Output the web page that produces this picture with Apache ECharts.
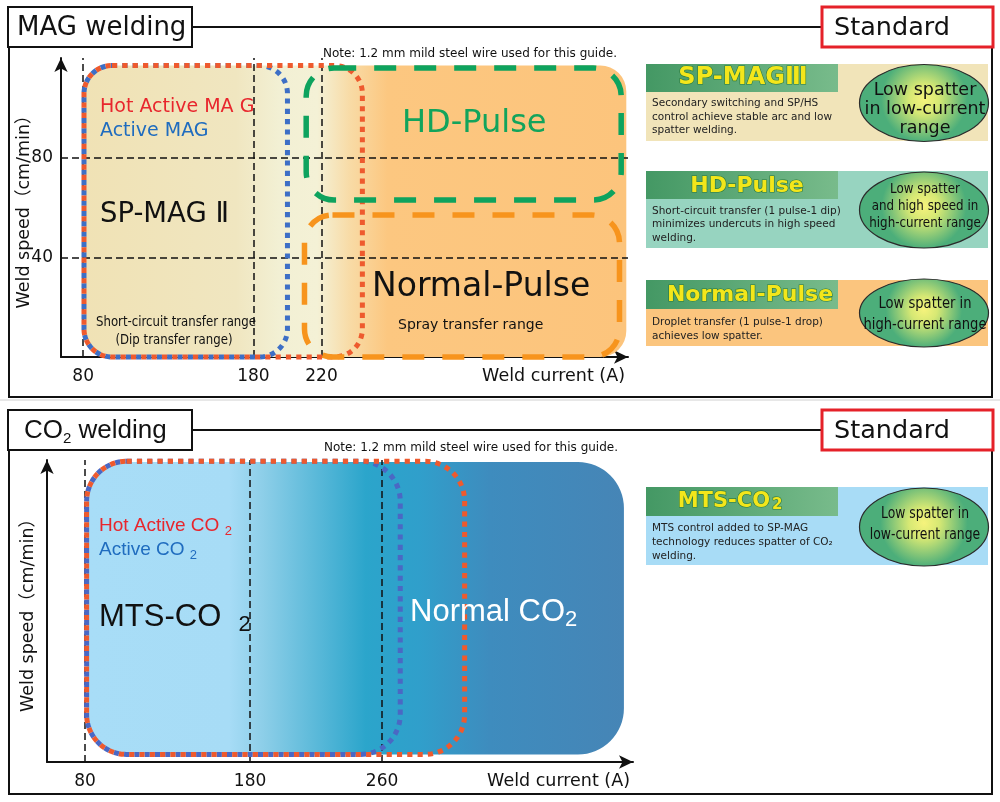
<!DOCTYPE html>
<html><head><meta charset="utf-8">
<script src="https://cdn.jsdelivr.net/npm/echarts@6/dist/echarts.min.js"></script>
<style>html,body{margin:0;padding:0;background:#fff}#c{width:1000px;height:802px}</style>
</head><body><div id="c"></div>
<script>
// ---------------- data ----------------
const magCurrentTicks = [80, 180, 220];
const magSpeedTicks = [40, 80];
const magRegionNames = ['MAG range', 'Active MAG', 'Hot Active MAG', 'HD-Pulse', 'Normal-Pulse'];
const magCurrentFrom = [80.5, 80.5, 80.5, 211, 210];
const magCurrentTo   = [399, 200, 244, 396, 395];
const magSpeedFrom   = [0, 0, 0, 63, 0];
const magSpeedTo     = [117, 117, 117, 116, 57];

const co2CurrentTicks = [80, 180, 260];
const co2RegionNames = ['CO2 range', 'Active CO2', 'Hot Active CO2'];
const co2CurrentFrom = [81, 81, 81];
const co2CurrentTo   = [406.5, 271, 310];
const co2SpeedFrom   = [2.5, 2.5, 2.5];
const co2SpeedTo     = [99.3, 99.6, 99.6];

// ---------------- styles ----------------
const FONT = '"DejaVu Sans", "Noto Sans CJK JP", sans-serif';
const regionStyle = {
  'MAG range': {r: [28, 26, 26, 28], gradient: [[0, '#f0e2b5'], [0.28, '#f0e6c0'], [0.36, '#f2f0d4'], [0.43, '#f4f1d6'], [0.49, '#f8dba6'], [0.56, '#fcc780'], [1, '#fcc47c']]},
  'Active MAG': {r: 28, stroke: '#3d6fc6', lw: 5, dotPair: ['Active MAG', 'Hot Active MAG']},
  'Hot Active MAG': {r: 28, stroke: '#ee5a2e', lw: 5, dotPair: ['Active MAG', 'Hot Active MAG']},
  'HD-Pulse': {r: 28, stroke: '#0ea35e', dash: [22, 18], lw: 5.5},
  'Normal-Pulse': {r: 28, stroke: '#f7941d', dash: [22, 18], lw: 5.5},
  'CO2 range': {r: [40, 46, 46, 40], gradient: [[0, '#a8ddf7'], [0.265, '#a7dcf6'], [0.33, '#8ccee8'], [0.52, '#2ba5cb'], [0.62, '#309fcb'], [0.75, '#3e8cbe'], [1, '#4685b6']]},
  'Active CO2': {r: 40, stroke: '#4a68c4', lw: 5, dotPair: ['Active CO2', 'Hot Active CO2']},
  'Hot Active CO2': {r: 40, stroke: '#ee5a2e', lw: 5, dotPair: ['Active CO2', 'Hot Active CO2']}
};

function makeRenderer(names, from, to, sFrom, sTo) {
  function box(api, i) {
    const tl = api.coord([from[i], sTo[i]]);
    const br = api.coord([to[i], sFrom[i]]);
    return {x: tl[0], y: tl[1], width: br[0] - tl[0], height: br[1] - tl[1]};
  }
  return function (params, api) {
    const i = api.value(4);
    const st = regionStyle[names[i]];
    const b = box(api, i);
    const shape = Object.assign({r: st.r}, b);
    let style;
    if (st.gradient) {
      style = {fill: new echarts.graphic.LinearGradient(0, 0, 1, 0, st.gradient.map(s => ({offset: s[0], color: s[1]}))), stroke: null};
    } else {
      style = {fill: 'none', stroke: st.stroke, lineWidth: st.lw, lineDash: st.dash, lineCap: 'butt'};
      if (st.dotPair) {
        // choose a dot period so the two dotted outlines coincide on the shared top edge
        // and interleave on the shared left / bottom edges
        const bi = box(api, names.indexOf(st.dotPair[0]));
        const bo = box(api, names.indexOf(st.dotPair[1]));
        const D = 2 * (bo.width - bi.width) + (bo.height - bi.height);
        const k = Math.max(0, Math.round(D / 10 - 0.5));
        const P = D / (k + 0.5);
        style.lineDash = [P / 2, P / 2];
        style.lineDashOffset = 0;
      }
    }
    return {type: 'rect', shape: shape, style: style};
  };
}
function regionData(names, from, to, sFrom, sTo, wantFill) {
  const out = [];
  names.forEach((n, i) => {
    if (!!regionStyle[n].gradient === wantFill) out.push([from[i], to[i], sFrom[i], sTo[i], i]);
  });
  return out;
}

const dashLine = {type: [7, 4], color: '#111', width: 1.5};

function xAxisOpt(grid, min, max, ticks) {
  return {
    gridIndex: grid, type: 'value', min: min, max: max,
    axisLine: {show: true, onZero: false, lineStyle: {color: '#111', width: 2}, symbol: ['none', 'arrow'], symbolSize: [10, 14]},
    axisTick: {show: false}, splitLine: {show: false},
    axisLabel: {customValues: ticks, fontSize: 17, color: '#111', margin: 11, fontFamily: FONT},
    name: 'Weld current (A)', nameLocation: 'end', nameGap: -3, nameMoveOverlap: false,
    nameTextStyle: {align: 'right', verticalAlign: 'top', padding: [11, 0, 0, 0], fontSize: 17.5, color: '#111', fontFamily: FONT}
  };
}
function yAxisOpt(grid, min, max, ticks, gap) {
  return {
    gridIndex: grid, type: 'value', min: min, max: max,
    axisLine: {show: true, onZero: false, lineStyle: {color: '#111', width: 2}, symbol: ['none', 'arrow'], symbolSize: [10, 14]},
    axisTick: {show: false}, splitLine: {show: false},
    axisLabel: ticks ? {customValues: ticks, fontSize: 17, color: '#111', margin: 8, fontFamily: FONT} : {show: false},
    name: 'Weld speed（cm/min）', nameLocation: 'middle', nameGap: gap, nameRotate: 90, nameMoveOverlap: false,
    nameTextStyle: {fontSize: 17.5, color: '#111', fontFamily: FONT}
  };
}

// ---------------- graphic helpers ----------------
function txt(x, y, text, size, fill, o) {
  o = o || {};
  const style = {
    text: text, fontSize: size, fontFamily: FONT, fill: fill || '#111',
    fontWeight: o.weight || 'normal', align: o.align || 'left', verticalAlign: 'middle'
  };
  if (o.rich) style.rich = o.rich;
  if (o.stroke) { style.stroke = o.stroke; style.lineWidth = o.lw || 1; }
  if (o.shadow) { style.shadowColor = o.shadow; style.shadowOffsetX = 2; style.shadowOffsetY = 2; style.shadowBlur = 0; }
  return {type: 'text', x: x, y: y, scaleX: o.sx || 1, z: o.z || 120, silent: true, style: style};
}
function frame(top, bottom) {
  return [
    {type: 'polyline', z: 100, silent: true, shape: {points: [[9, top + 40], [9, bottom], [992, bottom], [992, top + 40]]}, style: {stroke: '#111', lineWidth: 2, fill: null}},
    {type: 'line', z: 100, silent: true, shape: {x1: 192, y1: top + 20, x2: 822, y2: top + 20}, style: {stroke: '#111', lineWidth: 2}},
    {type: 'rect', z: 101, silent: true, shape: {x: 8, y: top, width: 184, height: 40}, style: {fill: '#fff', stroke: '#111', lineWidth: 2}},
    {type: 'rect', z: 101, silent: true, shape: {x: 822, y: top, width: 171, height: 40}, style: {fill: '#fff', stroke: '#e52129', lineWidth: 3}},
    txt(834, top + 21, 'Standard', 25.5, '#111')
  ];
}
const hdrGrad = () => new echarts.graphic.LinearGradient(0, 0, 1, 0, [{offset: 0, color: '#449864'}, {offset: 1, color: '#78bb8b'}]);
const ellGrad = () => new echarts.graphic.RadialGradient(0.5, 0.45, 0.55, [{offset: 0, color: '#f6f37c'}, {offset: 0.35, color: '#d6e874'}, {offset: 1, color: '#4cae7a'}]);
function card(c) {
  const els = [];
  els.push({type: 'rect', z: 10, silent: true, shape: {x: 646, y: c.y, width: 342, height: c.h}, style: {fill: c.bg}});
  els.push({type: 'rect', z: 11, silent: true, shape: {x: 646, y: c.y, width: 192, height: c.hh}, style: {fill: hdrGrad()}});
  c.titleEls.forEach(t => els.push(t));
  c.desc.forEach((d, k) => els.push(txt(652, c.descY[k], d, 10.5, '#222', {z: 12})));
  els.push({type: 'ellipse', z: 12, silent: true, shape: {cx: 924, cy: c.ecy, rx: 64.5, ry: c.ery}, style: {fill: ellGrad(), stroke: '#2b2b2b', lineWidth: 1.2}});
  c.ell.forEach((d, k) => els.push(txt(925, c.ellY[k], d, c.es, '#111', {align: 'center', sx: c.esx, z: 13})));
  return els;
}
const titleOpt = (extra) => Object.assign({weight: 'bold', stroke: '#2b7a3b', lw: 1.2, shadow: '#1f5f2e', align: 'center', z: 13}, extra || {});

const graphics = [].concat(
  [{type: 'line', z: 1, silent: true, shape: {x1: 0, y1: 400, x2: 1000, y2: 400}, style: {stroke: '#cfcfcf', lineWidth: 1}}],
  frame(7, 397), [txt(17, 28, 'MAG welding', 26, '#111')],
  frame(410, 794),
  [txt(24, 431, '{a|CO}{s|2}{a| welding}', 26, '#111', {rich: {a: {fontSize: 26, lineHeight: 31}, s: {fontSize: 15, lineHeight: 31, verticalAlign: 'bottom'}}})],
  // MAG chart texts
  [
    txt(617, 54, 'Note: 1.2 mm mild steel wire used for this guide.', 12, '#111', {align: 'right'}),
    txt(100, 107, 'Hot Active MA G', 19, '#e8262d'),
    txt(100, 131, 'Active MAG', 19, '#1f6cbf'),
    txt(100, 215, 'SP-MAG Ⅱ', 27.5, '#111'),
    txt(176, 322, 'Short-circuit transfer range', 14, '#111', {align: 'center', sx: 0.84}),
    txt(174, 340, '(Dip transfer range)', 14, '#111', {align: 'center', sx: 0.84}),
    txt(402, 124, 'HD-Pulse', 32, '#12a45c'),
    txt(372, 287, 'Normal-Pulse', 33, '#111'),
    txt(398, 325, 'Spray transfer range', 14, '#111')
  ],
  // CO2 chart texts
  [
    txt(618, 448, 'Note: 1.2 mm mild steel wire used for this guide.', 12, '#111', {align: 'right'}),
    txt(99, 526, '{a|Hot Active CO }{s|2}', 19, '#e8262d', {rich: {a: {fontSize: 19, lineHeight: 23}, s: {fontSize: 13, lineHeight: 16, verticalAlign: 'bottom'}}}),
    txt(99, 550, '{a|Active CO }{s|2}', 19, '#1f6cbf', {rich: {a: {fontSize: 19, lineHeight: 23}, s: {fontSize: 13, lineHeight: 16, verticalAlign: 'bottom'}}}),
    txt(99, 617, '{a|MTS-CO  }{s|2}', 31, '#111', {rich: {a: {fontSize: 31, lineHeight: 37}, s: {fontSize: 22, lineHeight: 26, verticalAlign: 'bottom'}}}),
    txt(410, 612, '{a|Normal CO}{s|2}', 31, '#ffffff', {rich: {a: {fontSize: 31, lineHeight: 37}, s: {fontSize: 22, lineHeight: 26, verticalAlign: 'bottom'}}})
  ],
  card({y: 64, h: 77, hh: 28, bg: '#f1e4b9',
    titleEls: [txt(743, 78, 'SP-MAGⅢ', 24, '#f3e61b', titleOpt())],
    desc: ['Secondary switching and SP/HS', 'control achieve stable arc and low', 'spatter welding.'], descY: [103, 117, 130],
    ecy: 103, ery: 38.5, ell: ['Low spatter', 'in low-current', 'range'], ellY: [90, 109, 128], es: 17.5, esx: 1}),
  card({y: 171, h: 77, hh: 28, bg: '#97d4c0',
    titleEls: [txt(747, 186, 'HD-Pulse', 22, '#f3e61b', titleOpt())],
    desc: ['Short-circuit transfer (1 pulse-1 dip)', 'minimizes undercuts in high speed', 'welding.'], descY: [211, 224, 238],
    ecy: 210, ery: 38, ell: ['Low spatter', 'and high speed in', 'high-current range'], ellY: [189, 206, 223], es: 14, esx: 0.85}),
  card({y: 280, h: 66, hh: 29, bg: '#fbc57e',
    titleEls: [txt(750, 295, 'Normal-Pulse', 22, '#f3e61b', titleOpt())],
    desc: ['Droplet transfer (1 pulse-1 drop)', 'achieves low spatter.'], descY: [322, 336],
    ecy: 313, ery: 34, ell: ['Low spatter in', 'high-current range'], ellY: [304, 325], es: 16, esx: 0.82}),
  card({y: 487, h: 78, hh: 29, bg: '#a8dcf6',
    titleEls: [txt(770, 502, 'MTS-CO', 21, '#f3e61b', titleOpt({align: 'right'})), txt(772, 505, '2', 15, '#f3e61b', titleOpt({align: 'left'}))],
    desc: ['MTS control added to SP-MAG', 'technology reduces spatter of CO₂', 'welding.'], descY: [528, 542, 556],
    ecy: 527, ery: 39, ell: ['Low spatter in', 'low-current range'], ellY: [514, 535], es: 15.5, esx: 0.8})
);

const option = {
  animation: false,
  textStyle: {fontFamily: FONT},
  grid: [
    {left: 61, top: 58, width: 567, height: 299, outerBoundsMode: 'none', containLabel: false},
    {left: 47, top: 460, width: 586, height: 302, outerBoundsMode: 'none', containLabel: false}
  ],
  xAxis: [xAxisOpt(0, 67, 400, magCurrentTicks), xAxisOpt(1, 57, 412, co2CurrentTicks)],
  yAxis: [yAxisOpt(0, 0, 120, magSpeedTicks, 28), yAxisOpt(1, 0, 100, null, 10)],
  series: [
    {type: 'custom', name: 'MAG fill', xAxisIndex: 0, yAxisIndex: 0, z: 1, silent: true,
      encode: {x: [0, 1], y: [2, 3]},
      renderItem: makeRenderer(magRegionNames, magCurrentFrom, magCurrentTo, magSpeedFrom, magSpeedTo),
      data: regionData(magRegionNames, magCurrentFrom, magCurrentTo, magSpeedFrom, magSpeedTo, true),
      markLine: {silent: true, symbol: ['none', 'none'], label: {show: false}, lineStyle: dashLine,
        data: magCurrentTicks.map(v => ({xAxis: v})).concat(magSpeedTicks.map(v => ({yAxis: v})))}},
    {type: 'custom', name: 'MAG ranges', xAxisIndex: 0, yAxisIndex: 0, z: 6, silent: true,
      encode: {x: [0, 1], y: [2, 3]},
      renderItem: makeRenderer(magRegionNames, magCurrentFrom, magCurrentTo, magSpeedFrom, magSpeedTo),
      data: regionData(magRegionNames, magCurrentFrom, magCurrentTo, magSpeedFrom, magSpeedTo, false)},
    {type: 'custom', name: 'CO2 fill', xAxisIndex: 1, yAxisIndex: 1, z: 1, silent: true,
      encode: {x: [0, 1], y: [2, 3]},
      renderItem: makeRenderer(co2RegionNames, co2CurrentFrom, co2CurrentTo, co2SpeedFrom, co2SpeedTo),
      data: regionData(co2RegionNames, co2CurrentFrom, co2CurrentTo, co2SpeedFrom, co2SpeedTo, true),
      markLine: {silent: true, symbol: ['none', 'none'], label: {show: false}, lineStyle: dashLine,
        data: co2CurrentTicks.map(v => ({xAxis: v}))}},
    {type: 'custom', name: 'CO2 ranges', xAxisIndex: 1, yAxisIndex: 1, z: 6, silent: true,
      encode: {x: [0, 1], y: [2, 3]},
      renderItem: makeRenderer(co2RegionNames, co2CurrentFrom, co2CurrentTo, co2SpeedFrom, co2SpeedTo),
      data: regionData(co2RegionNames, co2CurrentFrom, co2CurrentTo, co2SpeedFrom, co2SpeedTo, false)}
  ],
  graphic: {elements: graphics}
};
const chart = echarts.init(document.getElementById('c'), null, {renderer: 'canvas'});
chart.setOption(option);
</script></body></html>
